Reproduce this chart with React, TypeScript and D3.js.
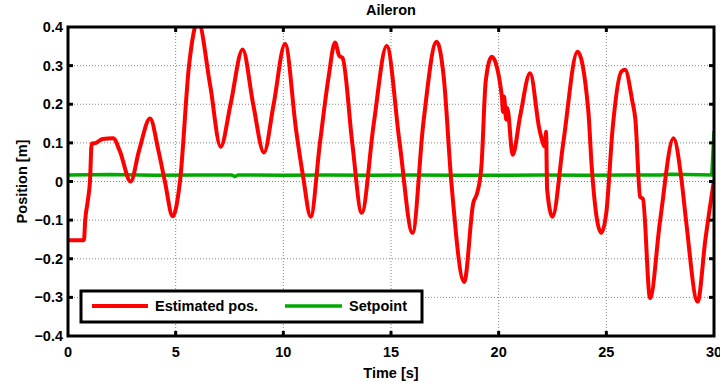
import React from "react";
import * as d3 from "d3";

const estTime = [0, 0.74, 0.8, 0.92, 1.02, 1.1, 1.3, 1.6, 2.1, 2.4, 2.91, 3.3, 3.81, 4.2, 4.5, 4.86, 5.2, 5.62, 6.04, 6.6, 7.09, 7.55, 8.11, 8.6, 9.1, 9.55, 10.08, 10.6, 10.92, 11.27, 11.7, 12.1, 12.4, 12.6, 12.75, 13.2, 13.64, 14.2, 14.8, 15.4, 16.0, 16.5, 17.12, 17.45, 17.8, 18.4, 18.82, 19.0, 19.2, 19.4, 19.68, 20.15, 20.2, 20.25, 20.35, 20.4, 20.65, 21.0, 21.46, 21.9, 22.15, 22.2, 22.25, 22.5, 23.0, 23.66, 24.16, 24.32, 24.76, 25.0, 25.3, 25.7, 25.87, 26.2, 26.35, 26.57, 26.7, 27.03, 27.5, 28.12, 28.5, 28.7, 29.24, 29.6, 30.0];
const estValue = [-0.152, -0.152, -0.1, -0.05, 0.0, 0.098, 0.1, 0.11, 0.112, 0.08, 0.0, 0.08, 0.163, 0.08, 0.0, -0.09, 0.0, 0.3, 0.415, 0.25, 0.09, 0.2, 0.342, 0.2, 0.075, 0.2, 0.356, 0.13, 0.012, -0.091, 0.1, 0.27, 0.36, 0.325, 0.32, 0.1, -0.081, 0.15, 0.351, 0.1, -0.133, 0.15, 0.362, 0.27, 0.0, -0.26, -0.056, -0.03, 0.04, 0.26, 0.323, 0.22, 0.18, 0.22, 0.16, 0.19, 0.069, 0.17, 0.28, 0.133, 0.09, 0.129, -0.02, -0.091, 0.1, 0.336, 0.185, 0.04, -0.133, -0.08, 0.142, 0.285, 0.289, 0.21, 0.16, -0.04, -0.045, -0.302, -0.1, 0.112, 0.0, -0.1, -0.311, -0.15, 0.004];

const setTime = [0, 2, 4, 6, 7.6, 7.75, 7.9, 10, 12, 14, 16, 18, 20, 22, 24, 26, 27.5, 28, 29.9, 30];
const setValue = [0.017, 0.018, 0.016, 0.017, 0.017, 0.013, 0.017, 0.016, 0.017, 0.016, 0.017, 0.016, 0.016, 0.017, 0.016, 0.017, 0.017, 0.019, 0.017, 0.13];

const xTicks = [0, 5, 10, 15, 20, 25, 30];
const yTicks = [-0.4, -0.3, -0.2, -0.1, 0, 0.1, 0.2, 0.3, 0.4];

const W = 720, H = 383;
const L = 68, R = 714, T = 27, B = 336;

export default function App() {
  const x = d3.scaleLinear().domain([0, 30]).range([L, R]);
  const y = d3.scaleLinear().domain([-0.4, 0.4]).range([B, T]);
  const est = estTime.map((t, i) => [t, estValue[i]] as [number, number]);
  const sp = setTime.map((t, i) => [t, setValue[i]] as [number, number]);
  const line = d3.line<[number, number]>().x(d => x(d[0])).y(d => y(d[1])).curve(d3.curveMonotoneX);
  const lineLin = d3.line<[number, number]>().x(d => x(d[0])).y(d => y(d[1]));
  const font = "'Liberation Sans', Arial, sans-serif";
  const fs = 14.5;
  const fmt = (v: number) => (v === 0 ? "0" : d3.format(".1f")(v));
  return (
    <svg width={W} height={H} style={{ position: "absolute", left: 0, top: 0, background: "#fff" }} fontFamily={font}>
      <defs>
        <clipPath id="plotclip"><rect x={L} y={T} width={R - L} height={B - T} /></clipPath>
      </defs>
      <rect x={0} y={0} width={W} height={H} fill="#fff" />
      {xTicks.slice(1, -1).map(t => (
        <line key={"gx" + t} x1={x(t)} x2={x(t)} y1={T} y2={B} stroke="#888" strokeWidth={1} strokeDasharray="1,2" />
      ))}
      {yTicks.slice(1, -1).map(v => (
        <line key={"gy" + v} x1={L} x2={R} y1={y(v)} y2={y(v)} stroke="#888" strokeWidth={1} strokeDasharray="1,2" />
      ))}
      <g clipPath="url(#plotclip)">
        <path d={lineLin(sp) || ""} fill="none" stroke="#00aa00" strokeWidth={3.5} />
        <path d={line(est) || ""} fill="none" stroke="#ff0000" strokeWidth={4} strokeLinejoin="round" />
      </g>
      {xTicks.slice(1, -1).map(t => (
        <g key={"tx" + t}>
          <line x1={x(t)} x2={x(t)} y1={B} y2={B - 5} stroke="#000" strokeWidth={3} />
          <line x1={x(t)} x2={x(t)} y1={T} y2={T + 5} stroke="#000" strokeWidth={3} />
        </g>
      ))}
      {yTicks.slice(1, -1).map(v => (
        <g key={"ty" + v}>
          <line x1={L} x2={L + 5} y1={y(v)} y2={y(v)} stroke="#000" strokeWidth={3} />
          <line x1={R} x2={R - 5} y1={y(v)} y2={y(v)} stroke="#000" strokeWidth={3} />
        </g>
      ))}
      <rect x={L} y={T} width={R - L} height={B - T} fill="none" stroke="#000" strokeWidth={3} />
      {xTicks.map(t => (
        <text key={"lx" + t} x={x(t)} y={357} textAnchor="middle" fontSize={fs} fontWeight="bold">{t}</text>
      ))}
      {yTicks.map(v => (
        <text key={"ly" + v} x={63} y={y(v) + 5} textAnchor="end" fontSize={fs} fontWeight="bold">{fmt(v)}</text>
      ))}
      <text x={391} y={15} textAnchor="middle" fontSize={fs} fontWeight="bold">Aileron</text>
      <text x={391} y={378} textAnchor="middle" fontSize={fs} fontWeight="bold">Time [s]</text>
      <text transform={`translate(27,${(T + B) / 2}) rotate(-90)`} textAnchor="middle" fontSize={fs} fontWeight="bold">Position [m]</text>
      <g>
        <rect x={81} y={291} width={341} height={31} fill="#fff" stroke="#000" strokeWidth={3} />
        <line x1={92} x2={148} y1={306} y2={306} stroke="#ff0000" strokeWidth={4} />
        <text x={155} y={311} fontSize={fs} fontWeight="bold">Estimated pos.</text>
        <line x1={285} x2={342} y1={306} y2={306} stroke="#00aa00" strokeWidth={3.5} />
        <text x={349} y={311} fontSize={fs} fontWeight="bold">Setpoint</text>
      </g>
    </svg>
  );
}
